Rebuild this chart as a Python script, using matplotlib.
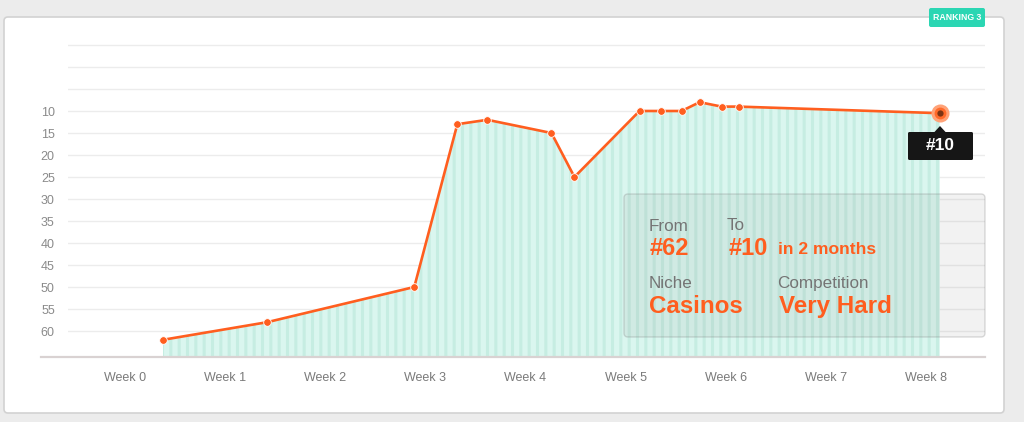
import numpy as np
import matplotlib
matplotlib.use("Agg")
import matplotlib.pyplot as plt
from matplotlib.patches import FancyBboxPatch, Polygon
from matplotlib.transforms import IdentityTransform

plt.rcParams['font.family'] = ['Liberation Sans', 'DejaVu Sans']
plt.rcParams['hatch.linewidth'] = 2.2

# data: week position (fraction of weeks) and rank
weeks = [0.38, 1.42, 2.89, 3.32, 3.62, 4.26, 4.49, 5.14, 5.35, 5.56, 5.74, 5.96, 6.13, 8.14]
rank = [62, 58, 50, 13, 12, 15, 25, 10, 10, 10, 8, 9, 9, 10.5]
week_labels = ["Week 0", "Week 1", "Week 2", "Week 3", "Week 4", "Week 5", "Week 6", "Week 7", "Week 8"]
y_ticks = [-5, 0, 5, 10, 15, 20, 25, 30, 35, 40, 45, 50, 55, 60]

W, H = 1024, 422
orange = "#ff5e1f"
fig = plt.figure(figsize=(W / 100, H / 100), dpi=100)
fig.patch.set_facecolor("#ececec")
T = IdentityTransform()

def P(x, y):
    return (x, H - y)

# white card
card = FancyBboxPatch(P(4, 413), 1000, 396, boxstyle="round,pad=0,rounding_size=4",
                      transform=T, facecolor="white", edgecolor="#d2d2d2", linewidth=1.2, zorder=-5)
fig.patches.append(card)

# axes from px 68..985 horizontally, 40..357 vertically
ax = fig.add_axes([68 / W, (H - 357) / H, (985 - 68) / W, (357 - 40) / H])
ax.set_facecolor("none")
ax.set_zorder(1)
ax.set_xlim(-0.569, 8.591)
ymax = 10 + (357 - 111) / 4.4
ymin = 10 + (40 - 111) / 4.4
ax.set_ylim(ymax, ymin)

for v in y_ticks:
    ax.axhline(v, color="#ececec", lw=1, zorder=1)
ax.axhline(ymax, xmin=(41 - 68) / (985 - 68), xmax=1, color="#d9d2d2", lw=1.6, clip_on=False, zorder=3)

ax.fill_between(weeks, rank, ymax, facecolor="#daf6ef", edgecolor="#c6ede2", hatch="||", linewidth=0, zorder=2)
ax.plot(weeks, rank, color=orange, lw=1.9, zorder=4)
ax.plot(weeks[:-1], rank[:-1], "o", ms=5.5, mfc=orange, mec="white", mew=0.6, zorder=5)
ax.plot(weeks[-1], rank[-1], "o", ms=13, mfc="#ffa277", mec="none", zorder=5)
ax.plot(weeks[-1], rank[-1], "o", ms=8.5, mfc="#ff6a2a", mec="none", zorder=6)
ax.plot(weeks[-1], rank[-1], "o", ms=4.5, mfc="#7a3414", mec="none", zorder=7)

ax.set_xticks(range(len(week_labels)))
ax.set_xticklabels(week_labels)
ax.set_yticks(y_ticks)
ax.set_yticklabels([str(v) if v >= 10 else "" for v in y_ticks])
ax.tick_params(axis="x", length=0, pad=11, labelsize=9, labelcolor="#7a7a7a")
ax.tick_params(axis="y", length=0, pad=9.5, labelsize=9, labelcolor="#8a8a8a")
for s in ax.spines.values():
    s.set_visible(False)

# info box
box = FancyBboxPatch(P(624, 337), 361, 143, boxstyle="round,pad=0,rounding_size=4", transform=T,
                     facecolor=(0.45, 0.45, 0.45, 0.09), edgecolor=(0.5, 0.5, 0.5, 0.28), linewidth=1, zorder=10)
fig.patches.append(box)

def txt(x, y, s, size, color, weight="normal"):
    fig.text(x, H - y, s, transform=T, fontsize=size, color=color, fontweight=weight,
             ha="left", va="baseline", zorder=11)

gray = "#747474"
txt(649, 231, "From", 12.3, gray)
txt(727, 230, "To", 12.3, gray)
txt(650, 255, "#62", 17, orange, "bold")
txt(729, 255, "#10", 17, orange, "bold")
txt(778, 254, "in 2 months", 12.6, orange, "bold")
txt(649, 288, "Niche", 12.3, gray)
txt(777, 288, "Competition", 12.3, gray)
txt(649, 313, "Casinos", 17.4, orange, "bold")
txt(779, 313, "Very Hard", 17.4, orange, "bold")

# tooltip
tip = FancyBboxPatch(P(908, 160), 65, 28, boxstyle="round,pad=0,rounding_size=1.5", transform=T,
                     facecolor="#161616", edgecolor="none", zorder=12)
fig.patches.append(tip)
fig.patches.append(Polygon([P(934, 132.5), P(940, 126), P(946, 132.5)], closed=True, transform=T,
                           facecolor="#161616", edgecolor="none", zorder=12))
fig.text(940.5, H - 146, "#10", transform=T, fontsize=12.5, color="white", fontweight="bold",
         ha="center", va="center", zorder=13)

# ranking badge
badge = FancyBboxPatch(P(929, 27), 56, 19, boxstyle="round,pad=0,rounding_size=2", transform=T,
                       facecolor="#2bd6b3", edgecolor="none", zorder=12)
fig.patches.append(badge)
fig.text(957, H - 17.5, "RANKING 3", transform=T, fontsize=6.3, color="white", fontweight="bold",
         ha="center", va="center", zorder=13)

fig.savefig("out.png", dpi=100, facecolor=fig.get_facecolor())
